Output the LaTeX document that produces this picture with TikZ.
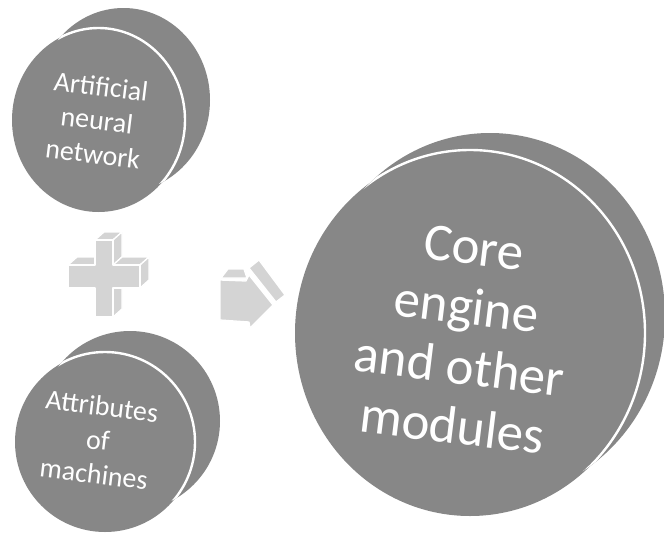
\documentclass[tikz,border=0pt]{standalone}
\usepackage{fontspec}
\setmainfont{Carlito}
\definecolor{discgray}{HTML}{878787}
\definecolor{symgray}{HTML}{D4D4D4}
\begin{document}
\begin{tikzpicture}[x=1pt,y=-1pt,
  discface/.style={fill=discgray},
  rimline/.style={draw=white,line width=2.4pt},
  disctext/.style={text=white,align=center,rotate=-7,inner sep=0pt},
  smalltext/.style={disctext,font=\fontsize{28}{34}\selectfont},
  bigtext/.style={disctext,font=\fontsize{53}{60}\selectfont},
  symface/.style={fill=symgray,draw=white,line width=1.3pt,line join=round}]
\useasboundingbox (0,0) rectangle (664,533);

% ---- disc 1: Artificial neural network
\fill[discface] (123.5,100) ellipse [x radius=86.5pt, y radius=92pt];
\fill[discface] (98.5,120) ellipse [x radius=86.5pt, y radius=92pt];
\begin{scope}
  \clip (123.5,100) ellipse [x radius=86.5pt, y radius=92pt];
  \draw[rimline] (98.5,120) ellipse [x radius=86.5pt, y radius=92pt];
\end{scope}
\node[smalltext] (ann) at (97,120) {Artificial\\neural\\network};

% ---- disc 2: Attributes of machines
\fill[discface] (130,421) ellipse [x radius=90pt, y radius=90pt];
\fill[discface] (105,442) ellipse [x radius=90pt, y radius=90pt];
\begin{scope}
  \clip (130,421) ellipse [x radius=90pt, y radius=90pt];
  \draw[rimline] (105,442) ellipse [x radius=90pt, y radius=90pt];
\end{scope}
\node[smalltext] (attr) at (98,440) {Attributes\\of\\machines};

% ---- disc 3: Core engine and other modules
\fill[discface] (490,316) ellipse [x radius=175pt, y radius=183pt];
\fill[discface] (470,333) ellipse [x radius=175pt, y radius=183pt];
\begin{scope}
  \clip (490,316) ellipse [x radius=175pt, y radius=183pt];
  \draw[rimline] (470,333) ellipse [x radius=175pt, y radius=183pt];
\end{scope}
\node[bigtext] (core) at (463,337) {Core\\engine\\and other\\modules};

% ---- plus sign (3D)
\filldraw[symface] (95,240) -- (113,240) -- (122,232) -- (104,232) -- cycle;
\filldraw[symface] (113,240) -- (122,232) -- (122,257) -- (113,265) -- cycle;
\filldraw[symface] (113,265) -- (140,265) -- (149,257) -- (122,257) -- cycle;
\filldraw[symface] (140,265) -- (149,257) -- (149,280) -- (140,288) -- cycle;
\filldraw[symface] (113,288) -- (122,280) -- (122,309) -- (113,317) -- cycle;
\filldraw[symface] (68,265) -- (95,265) -- (104,257) -- (77,257) -- cycle;
\filldraw[symface] (95,240) -- (113,240) -- (113,265) -- (140,265) -- (140,288)
  -- (113,288) -- (113,317) -- (95,317) -- (95,288) -- (68,288) -- (68,265)
  -- (95,265) -- cycle;

% ---- arrow (3D)
\filldraw[symface] (221,278) -- (228,269) -- (244,269) -- (247,278) -- cycle;
\filldraw[symface] (249,268) -- (259,260) -- (285,295) -- (276,302) -- cycle;
\filldraw[symface] (220,280) -- (246,281) -- (249,275) -- (273,305) -- (250,328)
  -- (249,322) -- (220,320) -- cycle;
\end{tikzpicture}
\end{document}
